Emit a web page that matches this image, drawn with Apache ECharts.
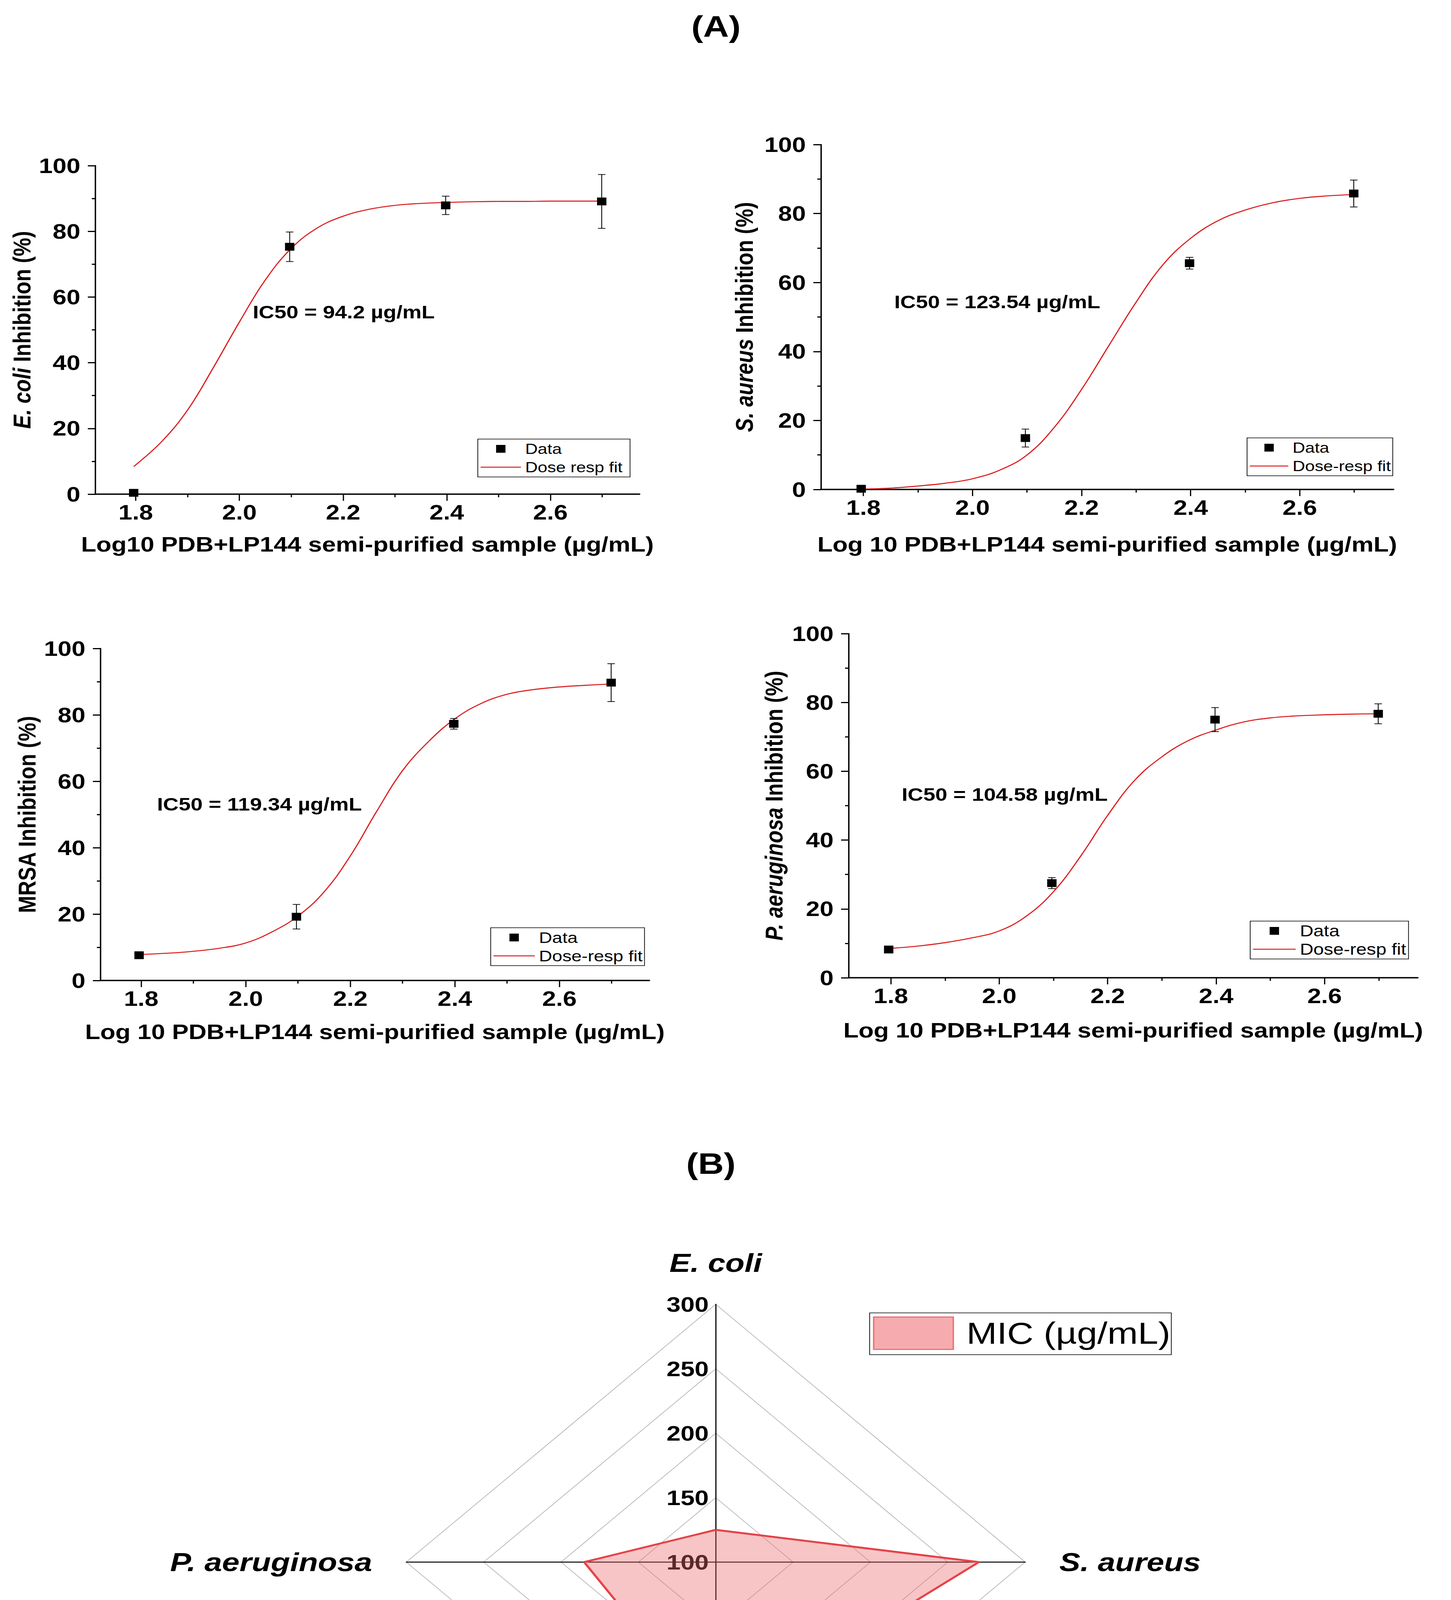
<!DOCTYPE html>
<html>
<head>
<meta charset="utf-8">
<title>Dose response and MIC</title>
<script src="https://cdn.jsdelivr.net/npm/echarts@6/dist/echarts.min.js"></script>
<style>
  html, body { margin: 0; padding: 0; background: #fff; overflow: hidden; }
  /* the source figure is stretched sideways, so the whole chart is too */
  #main { width: 3095px; height: 4831px; transform: scaleX(1.2); transform-origin: 0 0; }
</style>
</head>
<body>
<div id="main"></div>
<script>
//////////// data ////////////
// log10 of the tested concentrations
var doseLogX = [1.796, 2.097, 2.398, 2.699];

var ecoliY = [0.4, 75.3, 87.9, 89.1];
var ecoliErr = [0, 4.5, 2.8, 8.2];
var saureusY = [0.2, 14.9, 65.6, 85.8];
var saureusErr = [0, 2.6, 1.7, 3.9];
var mrsaY = [7.6, 19.2, 77.3, 89.7];
var mrsaErr = [0, 3.7, 1.6, 5.7];
var paY = [8.2, 27.5, 75.0, 76.7];
var paErr = [0, 1.6, 3.5, 2.9];

// fitted curves
var fitX = [1.796, 1.85, 1.9, 1.95, 2.0, 2.05, 2.1, 2.15, 2.2, 2.25, 2.3, 2.35, 2.4, 2.45, 2.5, 2.55, 2.6, 2.65, 2.699];
var ecoliFit = [8.4, 16.0, 25.6, 38.6, 52.4, 65.2, 74.8, 81.0, 84.6, 86.7, 87.9, 88.5, 88.8, 89.0, 89.1, 89.1, 89.2, 89.2, 89.2];
var saureusFit = [0.1, 0.4, 1.0, 1.8, 3.1, 5.6, 10.0, 18.0, 29.0, 41.7, 54.3, 65.3, 72.8, 77.9, 81.0, 83.1, 84.4, 85.1, 85.5];
var mrsaFit = [7.8, 8.2, 8.8, 9.7, 11.3, 14.6, 19.4, 26.7, 37.5, 50.8, 63.2, 72.0, 78.8, 83.4, 86.2, 87.6, 88.4, 88.9, 89.3];
var paFit = [8.5, 9.2, 10.2, 11.6, 13.6, 17.9, 25.0, 35.3, 47.2, 57.4, 64.2, 69.0, 72.0, 74.3, 75.5, 76.1, 76.4, 76.6, 76.7];

// axes
var xTicks = [1.8, 2.0, 2.2, 2.4, 2.6];
var xRange = [1.722, 2.772];
var yRange = [0, 100];

// MIC radar (order is counter-clockwise from the top)
var micNames = ['E. coli', 'P. aeruginosa', 'MRSA', 'S. aureus'];
var micValues = [125, 185, 225, 270];
var micRange = [100, 300];

//////////// setup ////////////
var FONT = '"Liberation Sans", Arial, Helvetica, sans-serif';
var RED = '#dc1c1e';
var STRETCH = 1.2;

// x positions below are measured on the final picture
function sx(v) { return v / STRETCH; }

function zip(xs, ys) {
	return xs.map(function(x, i) { return [x, ys[i]]; });
}

var panels = [
	{ yName: '{i|E. coli} Inhibition (%)', xName: 'Log10 PDB+LP144 semi-purified sample (µg/mL)',
	  fitName: 'Dose resp fit', y: ecoliY, err: ecoliErr, fit: ecoliFit, note: 'IC50 = 94.2 µg/mL' },
	{ yName: '{i|S. aureus} Inhibition (%)', xName: 'Log 10 PDB+LP144 semi-purified sample (µg/mL)',
	  fitName: 'Dose-resp fit', y: saureusY, err: saureusErr, fit: saureusFit, note: 'IC50 = 123.54 µg/mL' },
	{ yName: 'MRSA Inhibition (%)', xName: 'Log 10 PDB+LP144 semi-purified sample (µg/mL)',
	  fitName: 'Dose-resp fit', y: mrsaY, err: mrsaErr, fit: mrsaFit, note: 'IC50 = 119.34 µg/mL' },
	{ yName: '{i|P. aeruginosa} Inhibition (%)', xName: 'Log 10 PDB+LP144 semi-purified sample (µg/mL)',
	  fitName: 'Dose-resp fit', y: paY, err: paErr, fit: paFit, note: 'IC50 = 104.58 µg/mL' }
];

// plot box [left, top, right, bottom], legend corner, IC50 text (left, middle)
var layouts = [
	{ box: [244, 424, 1637, 1265], xGap: 102, yGap: 130, legend: [1223, 1124], padR: 16, lFont: 37, lLine: 86, note: [647, 799] },
	{ box: [2101, 370, 3567, 1253], xGap: 114, yGap: 137, legend: [3192, 1121], padR: 4, lFont: 37, lLine: 82, note: [2289, 773] },
	{ box: [257, 1660, 1662, 2510], xGap: 105, yGap: 130, legend: [1256, 2375], padR: 4, lFont: 39, lLine: 88, note: [402, 2059] },
	{ box: [2172, 1622, 3629, 2503], xGap: 108, yGap: 133, legend: [3200, 2358], padR: 5, lFont: 40, lLine: 91, note: [2308, 2034] }
];

function boldText(size) {
	return { fontFamily: FONT, fontSize: size, fontWeight: 'bold', color: '#000' };
}

// 에러바
function errorBar(params, api) {
	var x = api.value(0), lo = api.value(1), hi = api.value(2);
	if (hi - lo <= 0) return null;
	var top = api.coord([x, hi]);
	var bot = api.coord([x, lo]);
	var half = 8;
	var style = { stroke: '#000', lineWidth: 1.8 };
	return {
		type: 'group',
		children: [
			{ type: 'line', shape: { x1: top[0], y1: top[1], x2: bot[0], y2: bot[1] }, style: style },
			{ type: 'line', shape: { x1: top[0] - half, y1: top[1], x2: top[0] + half, y2: top[1] }, style: style },
			{ type: 'line', shape: { x1: bot[0] - half, y1: bot[1], x2: bot[0] + half, y2: bot[1] }, style: style }
		]
	};
}

var grids = [], xAxes = [], yAxes = [], series = [], legends = [];
var titles = [
	{ text: '(A)', left: sx(1833) - 53, top: 30, padding: 0, textStyle: boldText(76) },
	{ text: '(B)', left: sx(1820) - 53, top: 2941, padding: 0, textStyle: boldText(76) }
];

panels.forEach(function(p, i) {
	var L = layouts[i];
	var left = sx(L.box[0]), right = sx(L.box[2]);
	grids.push({ left: left, top: L.box[1], width: right - left, height: L.box[3] - L.box[1] });

	xAxes.push({
		gridIndex: i, type: 'value', min: xRange[0], max: xRange[1],
		name: p.xName, nameLocation: 'middle', nameGap: L.xGap,
		nameTextStyle: boldText(53),
		axisLine: { show: true, onZero: false, lineStyle: { color: '#000', width: 3.5 } },
		axisTick: { show: true, length: 17, customValues: xTicks, lineStyle: { color: '#000', width: 2.6 } },
		minorTick: { show: true, splitNumber: 2, length: 8, lineStyle: { color: '#000', width: 2.6 } },
		axisLabel: Object.assign({ customValues: xTicks, margin: 20,
			formatter: function(v) { return v.toFixed(1); } }, boldText(53)),
		splitLine: { show: false }
	});

	var nameStyle = boldText(53);
	nameStyle.rich = { i: { fontFamily: FONT, fontSize: 53, fontWeight: 'bold', fontStyle: 'italic', color: '#000' } };
	yAxes.push({
		gridIndex: i, type: 'value', min: yRange[0], max: yRange[1], interval: 20,
		name: p.yName, nameLocation: 'middle', nameGap: L.yGap, nameRotate: 90,
		nameTextStyle: nameStyle,
		axisLine: { show: true, onZero: false, lineStyle: { color: '#000', width: 3 } },
		axisTick: { show: true, length: 16, lineStyle: { color: '#000', width: 3 } },
		minorTick: { show: true, splitNumber: 2, length: 7.5, lineStyle: { color: '#000', width: 3 } },
		axisLabel: Object.assign({ margin: 32 }, boldText(53)),
		splitLine: { show: false }
	});

	series.push({
		type: 'line', name: p.fitName, xAxisIndex: i, yAxisIndex: i,
		data: zip(fitX, p.fit), smooth: 0.4, symbol: 'none', showSymbol: false,
		lineStyle: { color: RED, width: 2.6 }, itemStyle: { color: RED }, z: 3
	});
	series.push({
		type: 'custom', name: 'error', xAxisIndex: i, yAxisIndex: i,
		data: doseLogX.map(function(x, k) { return [x, p.y[k] - p.err[k], p.y[k] + p.err[k]]; }),
		encode: { x: 0, y: [1, 2] }, renderItem: errorBar, z: 4
	});
	series.push({
		type: 'scatter', name: 'Data', xAxisIndex: i, yAxisIndex: i,
		data: zip(doseLogX, p.y), symbol: 'rect', symbolSize: 20,
		itemStyle: { color: '#000', opacity: 1 }, z: 5
	});

	legends.push({
		orient: 'vertical', left: sx(L.legend[0]), top: L.legend[1],
		itemWidth: L.lLine, itemHeight: 20, itemGap: 5,
		padding: [4, L.padR, 4, 6],
		borderColor: '#000', borderWidth: 1.5, backgroundColor: '#fff',
		selectedMode: false,
		textStyle: { fontFamily: FONT, fontSize: L.lFont, lineHeight: 42, color: '#000', padding: [0, 0, 0, 4] },
		data: [
			{ name: 'Data', icon: 'path://M0,0H10V10H0Z', itemStyle: { color: '#000', opacity: 1 } },
			{ name: p.fitName, icon: 'path://M0,0H100V3H0Z', itemStyle: { color: RED } }
		]
	});

	titles.push({
		text: p.note, left: sx(L.note[0]), top: L.note[1] - 23, padding: 0,
		textStyle: boldText(46)
	});
});

// MIC 레이더 범례
legends.push({
	left: sx(2226), top: 3361, itemWidth: 170, itemHeight: 83,
	padding: [9, 2, 12, 7], borderColor: '#000', borderWidth: 1.5,
	selectedMode: false,
	textStyle: { fontFamily: FONT, fontSize: 78, lineHeight: 83, color: '#000', padding: [0, 0, 0, 23] },
	data: [{ name: 'MIC (µg/mL)', icon: 'rect',
		itemStyle: { color: 'rgba(238,104,108,0.55)', borderColor: 'rgba(232,80,86,0.75)', borderWidth: 3 } }]
});

var option = {
	animation: false,
	backgroundColor: '#fff',
	title: titles,
	grid: grids,
	xAxis: xAxes,
	yAxis: yAxes,
	legend: legends,
	radar: {
		center: [sx(1832), 3999],
		radius: 660,
		startAngle: 90,
		shape: 'polygon',
		splitNumber: 4,
		nameGap: 73,
		indicator: micNames.map(function(n, k) {
			var ind = { name: n, min: micRange[0], max: micRange[1] };
			if (k === 0) ind.axisLabel = { show: true };
			return ind;
		}),
		axisName: {
			color: '#000', fontFamily: FONT, fontSize: 67, fontWeight: 'bold',
			formatter: function(name) { return name === 'MRSA' ? '{b|' + name + '}' : '{i|' + name + '}'; },
			rich: {
				b: { fontFamily: FONT, fontSize: 67, fontWeight: 'bold', color: '#000' },
				i: { fontFamily: FONT, fontSize: 67, fontWeight: 'bold', fontStyle: 'italic', color: '#000' }
			}
		},
		axisLine: { lineStyle: { color: '#000', width: 2.4 } },
		splitLine: { lineStyle: { color: '#b4b4b4', width: 1.6 } },
		splitArea: { show: false },
		axisTick: { show: false },
		axisLabel: Object.assign({ show: false, margin: 15 }, boldText(54))
	},
	series: series.concat([{
		type: 'radar',
		name: 'MIC (µg/mL)',
		symbol: 'none',
		lineStyle: { color: '#e33b40', width: 5 },
		itemStyle: { color: '#e33b40' },
		areaStyle: { color: 'rgba(238,104,108,0.55)' },
		data: [{ name: 'MIC (µg/mL)', value: micValues }],
		z: 3
	}])
};

var chart = echarts.init(document.getElementById('main'), null, { renderer: 'svg' });
chart.setOption(option);
</script>
</body>
</html>
